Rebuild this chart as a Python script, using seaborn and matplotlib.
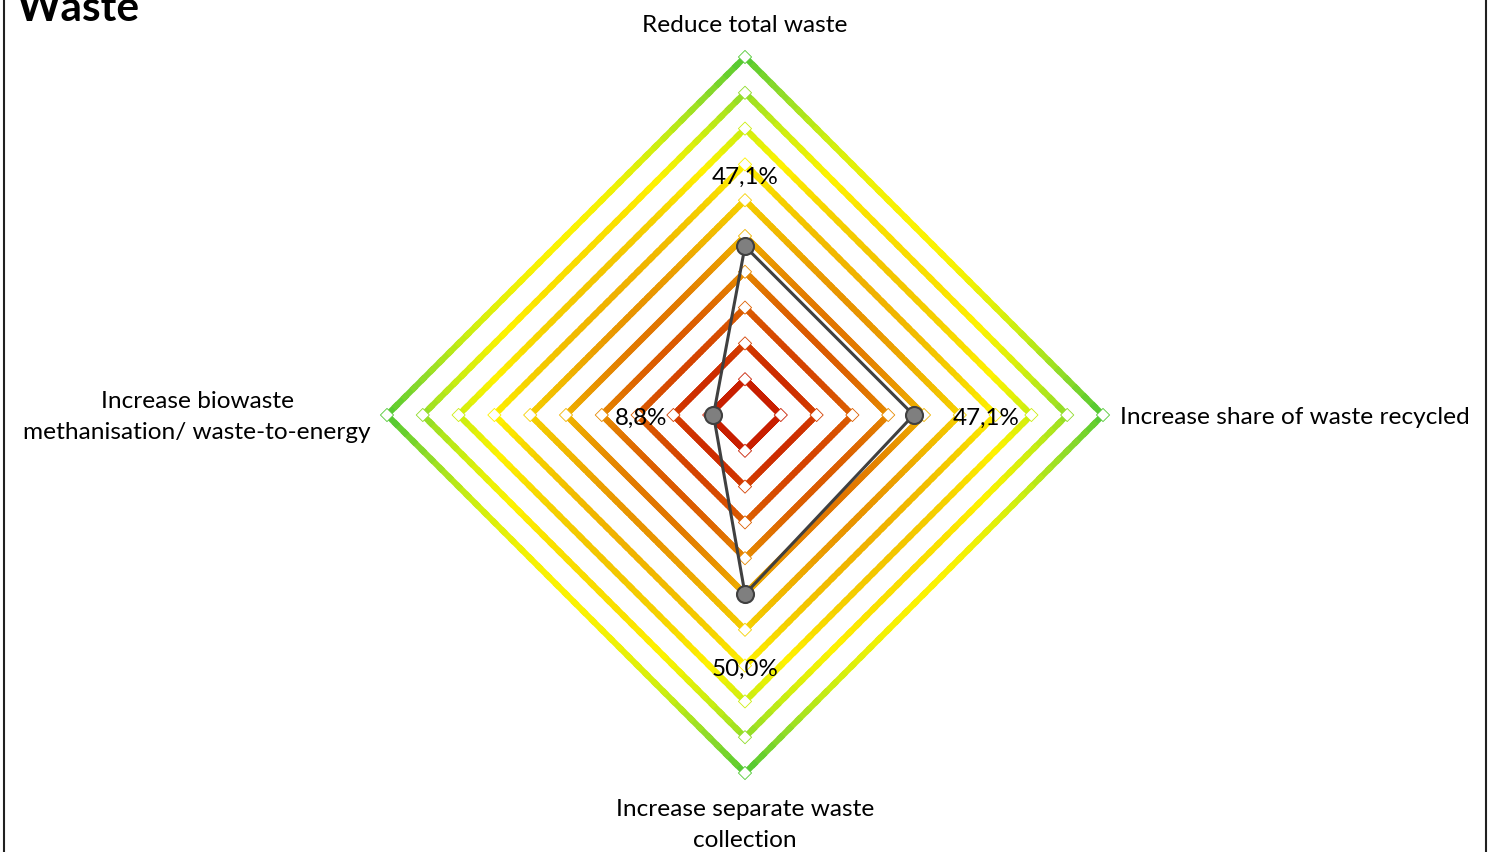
import numpy as np
import pandas as pd
import matplotlib
matplotlib.use("Agg")
import matplotlib.pyplot as plt
import seaborn as sns
from matplotlib.collections import LineCollection
from matplotlib.colors import LinearSegmentedColormap
from matplotlib.lines import Line2D

# data
categories = ["Reduce total waste",
              "Increase share of waste recycled",
              "Increase separate waste\ncollection",
              "Increase biowaste\nmethanisation/ waste-to-energy"]
values = [47.1, 47.1, 50.0, 8.8]
value_labels = ["47,1%", "47,1%", "50,0%", "8,8%"]
ring_levels = [10, 20, 30, 40, 50, 60, 70, 80, 90, 100]
ring_colors = ["#C81E00", "#D44000", "#DC6000", "#E68A00", "#F0B400",
               "#F5D000", "#FFF200", "#CCEE10", "#90DC28", "#50C832"]

# basic setting
sns.set_theme(style="white")
plt.rcParams['font.family'] = ['Lato', 'DejaVu Sans']
plt.rcParams['text.color'] = 'black'

cmap = LinearSegmentedColormap.from_list(
    "ramp", [(0.0, ring_colors[0])] + [(l / 100, c) for l, c in zip(ring_levels, ring_colors)])

fig = plt.figure(figsize=(14.93, 8.53), dpi=100)
ax = fig.add_axes([0, 0, 1, 1])
px = 3.58  # pixels per percent
ax.set_xlim(-745 / px, 748 / px)
ax.set_ylim(-(853 - 416) / px, 416 / px)
ax.set_axis_off()

angles = np.deg2rad([90, 0, -90, 180])

# gradient rings
segs, cols = [], []
for lvl in ring_levels:
    vx = lvl * np.cos(angles)
    vy = lvl * np.sin(angles)
    vx = np.append(vx, vx[0])
    vy = np.append(vy, vy[0])
    for i in range(4):
        t = np.linspace(0, 1, 41)
        xs = vx[i] + (vx[i + 1] - vx[i]) * t
        ys = vy[i] + (vy[i + 1] - vy[i]) * t
        for j in range(len(t) - 1):
            segs.append([(xs[j], ys[j]), (xs[j + 1], ys[j + 1])])
            r = np.hypot((xs[j] + xs[j + 1]) / 2, (ys[j] + ys[j + 1]) / 2)
            cols.append(cmap(r / 100))
ax.add_collection(LineCollection(segs, colors=cols, linewidths=4.4, capstyle='projecting', zorder=1))

# vertex markers of rings
rings = pd.DataFrame([(lvl * np.cos(a), lvl * np.sin(a), lvl) for lvl in ring_levels for a in angles],
                     columns=["x", "y", "lvl"])
sns.scatterplot(data=rings, x="x", y="y", marker="D", s=45, color="white",
                edgecolor=[cmap(v / 100) for v in rings["lvl"]], linewidth=0.6, ax=ax, zorder=2)

# data polygon
pts = pd.DataFrame({"x": np.array(values) * np.cos(angles), "y": np.array(values) * np.sin(angles)})
closed = pd.concat([pts, pts.iloc[:1]], ignore_index=True)
sns.lineplot(data=closed, x="x", y="y", sort=False, estimator=None, color="#404040", lw=2.2, ax=ax, zorder=3)
sns.scatterplot(data=pts, x="x", y="y", s=150, color="#7F7F7F", edgecolor="#404040",
                linewidth=1.5, ax=ax, zorder=4)

# value labels
for v, a, lab in zip(values, angles, value_labels):
    r = v + 20.2
    ax.text(r * np.cos(a), r * np.sin(a), lab, ha='center', va='center_baseline', fontsize=17.4,
            color="black", zorder=5)

# category labels
fs = 17.6
ax.text(0, 109.5, categories[0], ha='center', va='center_baseline', fontsize=fs)
ax.text(104.7, 0, categories[1], ha='left', va='center_baseline', fontsize=fs)
ax.text(0, -114.2, categories[2], ha='center', va='center', fontsize=fs, linespacing=1.6)
ax.text(-104.5, -0.3, categories[3], ha='right', va='center', fontsize=fs, multialignment='center',
        linespacing=1.6)

# title, cropped at the top
fig.text(17 / 1493, 1 - 21 / 853, "Waste", ha='left', va='baseline', fontsize=30.5, fontweight='bold')

# frame
fig.add_artist(Line2D([4 / 1493, 4 / 1493], [0, 1], color="#202020", lw=1.5))
fig.add_artist(Line2D([1486 / 1493, 1486 / 1493], [0, 1], color="#202020", lw=1.5))

plt.savefig("out.png", dpi=100)
